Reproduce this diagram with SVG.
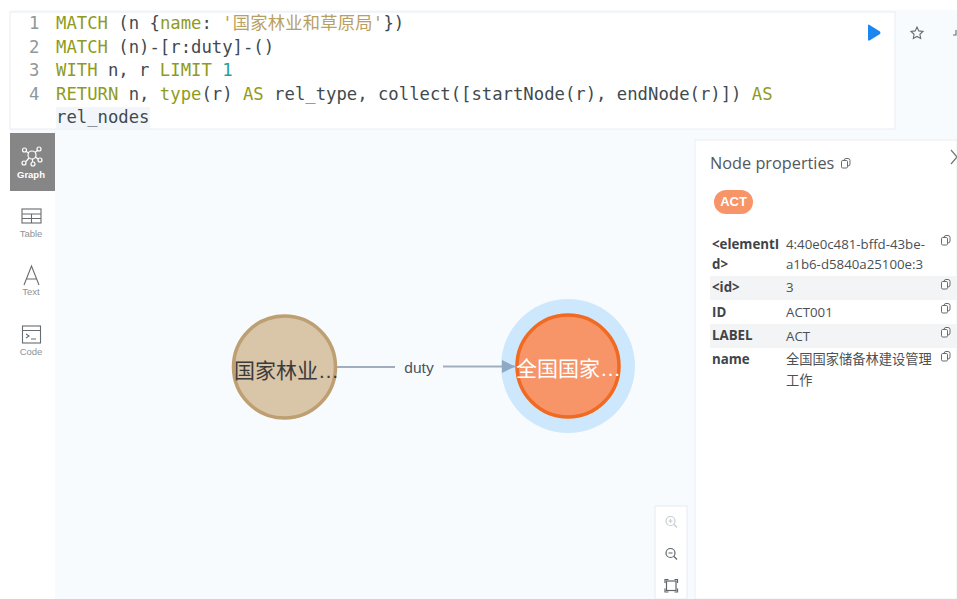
<svg xmlns="http://www.w3.org/2000/svg" width="957" height="599" viewBox="0 0 957 599">
<style>
.code{font:17.25px "DejaVu Sans Mono","Liberation Mono","Noto Sans CJK SC",monospace;fill:#3f4a50}
.ln{fill:#8e979b}
.kw{fill:#8f9b1c}
.str{fill:#b8a062;letter-spacing:.25px}
.num{fill:#2a9d9a}
.nav{font:9.5px "Liberation Sans",Arial,sans-serif;fill:#8d9398;text-anchor:middle}
.icon{fill:none;stroke:#666c70;stroke-width:1.1}
.k{font:bold 13.3px "Open Sans","Noto Sans",sans-serif;fill:#3f4448}
.v{font:13.25px "Open Sans","Noto Sans","Noto Sans CJK SC",sans-serif;fill:#4b5054}
.nl{font:21px "Noto Sans CJK SC","Liberation Sans",sans-serif}
.el{font-family:"Liberation Sans",Arial,sans-serif}
.cp{fill:#fff;stroke:#676c70;stroke-width:1}
</style>
<defs>
<g id="copy"><rect class="cp" x="2.5" y="0" width="6" height="7.5" rx="2"/><rect class="cp" x="0" y="2" width="6" height="7.5" rx="1.2"/></g>
<marker id="arrow" markerWidth="14" markerHeight="14" refX="13" refY="6.5" orient="auto" markerUnits="userSpaceOnUse"><path d="M0 0L13 6.5L0 13Z" fill="#8fa9c4"/></marker>
</defs>
<rect width="957" height="599" fill="#f8fbfe"/>
<rect x="0" y="0" width="957" height="10" fill="#fff"/>
<rect x="0" y="0" width="10" height="599" fill="#fff"/>
<g id="editor">
<rect x="10" y="12" width="885" height="117" fill="#fff" stroke="#e8edf2"/>
<text class="code ln" x="29" y="29">1</text>
<text class="code ln" x="29" y="53">2</text>
<text class="code ln" x="29" y="76">3</text>
<text class="code ln" x="29" y="100">4</text>
<text class="code" x="56" y="29"><tspan class="kw">MATCH</tspan> (n {<tspan class="kw">name</tspan>: <tspan class="str">'国家林业和草原局'</tspan>})</text>
<text class="code" x="56" y="53"><tspan class="kw">MATCH</tspan> (n)-[r:duty]-()</text>
<text class="code" x="56" y="76"><tspan class="kw">WITH</tspan> n, r <tspan class="kw">LIMIT</tspan> <tspan class="num">1</tspan></text>
<text class="code" x="56" y="100"><tspan class="kw">RETURN</tspan> n, <tspan class="kw">type</tspan>(r) <tspan class="kw">AS</tspan> rel_type, collect([startNode(r), endNode(r)]) <tspan class="kw">AS</tspan></text>
<rect x="56" y="107" width="94" height="22" fill="#f2f6fa"/>
<text class="code" x="56" y="123">rel_nodes</text>
<path d="M868 25.500Q868 24 869.500 25L880 31.500Q881 33 880 34L869.500 40.500Q868 41 868 39.500Z" fill="#1a86f0"/>
<path d="M917 27l1.800 3.900 4.200.5-3.100 2.900.8 4.200-3.700-2.100-3.700 2.100.8-4.200-3.100-2.900 4.200-.5z" class="icon" stroke="#40464a"/>
<path d="M956 30v5h-3" class="icon"/>
</g>
<g id="sidebar">
<rect x="10" y="133" width="45" height="466" fill="#fff"/>
<rect x="10" y="133" width="45" height="58" fill="#868686"/>
<g fill="none" stroke="#fff" stroke-width="1.200">
<circle cx="32" cy="155" r="4"/><circle cx="24.500" cy="150" r="2"/><circle cx="39" cy="149" r="2"/><circle cx="24" cy="163" r="2"/><circle cx="33" cy="164" r="2"/><circle cx="40" cy="160" r="2"/>
<path d="M26 151.500L29 153M37.500 150.500L35 152.500M26 161.500L29 158M32.500 159v3M38 159L35.500 157"/>
</g>
<text class="nav" x="31" y="178" style="fill:#fff;font-weight:bold">Graph</text>
<g class="icon"><rect x="22" y="209" width="19" height="14"/><path d="M22 214h19M22 218.500h19M31.500 214v9"/></g>
<text class="nav" x="31" y="237">Table</text>
<path d="M24 285L31.500 266L39 285M26.500 279h10" class="icon"/>
<text class="nav" x="31" y="295">Text</text>
<g class="icon"><rect x="22.500" y="326" width="18" height="17"/><path d="M22.500 330.500h18M26 334l3 2-3 2M31 339h5"/></g>
<text class="nav" x="31" y="355">Code</text>
</g>
<g id="node-forestry">
<circle cx="284.500" cy="367" r="51" fill="#d9c5a8" stroke="#bd9f72" stroke-width="3.500"/>
<text class="nl" x="234" y="378" fill="#3b3b3b">国家林业<tspan class="el">…</tspan></text>
</g>
<g id="node-act">
<circle cx="568" cy="366" r="67" fill="#cde8fc"/>
<circle cx="568" cy="366" r="51" fill="#f79468" stroke="#f16a22" stroke-width="3.500"/>
<text class="nl" x="516" y="376" fill="#fff">全国国家<tspan class="el">…</tspan></text>
</g>
<g id="connectors">
<path d="M337 367H395" fill="none" stroke="#a0aebd" stroke-width="1.800"/>
<path d="M443 366.500H515" fill="none" stroke="#a0aebd" stroke-width="1.800" marker-end="url(#arrow)"/>
<text x="419" y="373" font-family="Liberation Sans,Arial,sans-serif" font-size="15.500" fill="#4a5560" text-anchor="middle">duty</text>
</g>
<g id="zoom-controls">
<rect x="655" y="506" width="32" height="93" fill="#fff" stroke="#e6ebf0"/>
<g fill="none" stroke="#c8cdd0" stroke-width="1.200"><circle cx="670.500" cy="521" r="4.500"/><path d="M674 524.500l3 3M668.500 521h4M670.500 519v4"/></g>
<g fill="none" stroke="#5f6569" stroke-width="1.200"><circle cx="670.500" cy="553" r="4.500"/><path d="M674 556.500l3 3M668.500 553h4"/></g>
<g fill="none" stroke="#5f6569" stroke-width="1.200"><rect x="666.500" y="581" width="9.500" height="9.500"/><path d="M665 583v-3.500h3.500M674.500 579.500h3v3.500M677.500 588.500v3.500h-3M668.500 592h-3.500v-3.500"/></g>
</g>
<g id="properties">
<rect x="695" y="140" width="262" height="459" fill="#fff" stroke="#eaeef2"/>
<text x="710" y="169" font-family="Open Sans,Noto Sans,sans-serif" font-size="16.300" fill="#53585c">Node properties</text>
<use href="#copy" x="841.500" y="158.500"/>
<path d="M951 150L957 157L951 164" fill="none" stroke="#777" stroke-width="1.200"/>
<rect x="714" y="190" width="39" height="24" rx="12" fill="#f79468"/>
<text x="733.500" y="206" font-family="Liberation Sans,Arial,sans-serif" font-size="13" font-weight="bold" fill="#fff" text-anchor="middle">ACT</text>
<rect x="710" y="276" width="247" height="24" fill="#f3f4f5"/>
<rect x="710" y="324" width="247" height="24" fill="#f3f4f5"/>
<text class="k" x="712" y="249">&lt;elementI</text><text class="k" x="712" y="269">d&gt;</text>
<text class="v" x="786" y="249">4:40e0c481-bffd-43be-</text><text class="v" x="786" y="269">a1b6-d5840a25100e:3</text>
<text class="k" x="712" y="292">&lt;id&gt;</text><text class="v" x="786" y="292">3</text>
<text class="k" x="712" y="317">ID</text><text class="v" x="786" y="317">ACT001</text>
<text class="k" x="712" y="340">LABEL</text><text class="v" x="786" y="341">ACT</text>
<text class="k" x="712" y="364">name</text><text class="v" x="786" y="364">全国国家储备林建设管理</text><text class="v" x="786" y="385">工作</text>
<use href="#copy" x="941.500" y="235.500"/><use href="#copy" x="941.500" y="279.500"/><use href="#copy" x="941.500" y="303.500"/><use href="#copy" x="941.500" y="327.500"/><use href="#copy" x="941.500" y="351.500"/>
</g>
</svg>
